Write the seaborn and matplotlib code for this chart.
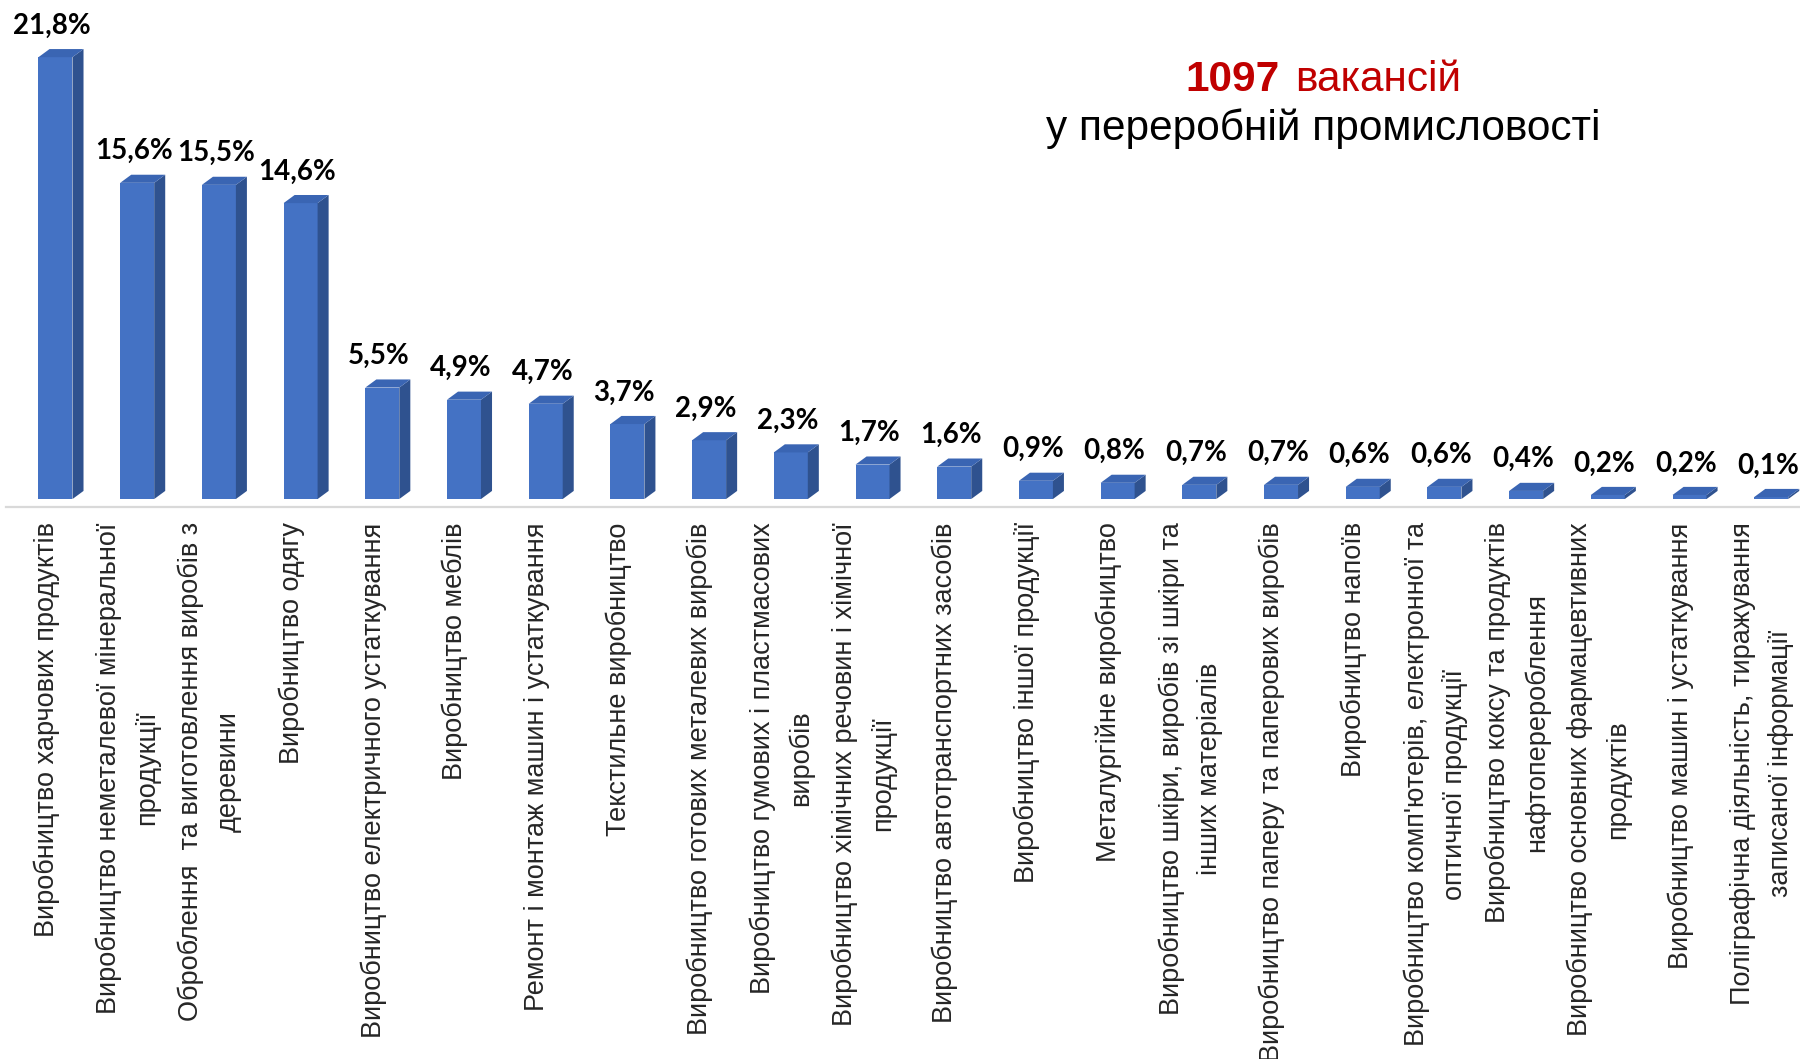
import matplotlib
matplotlib.use("Agg")
import matplotlib.pyplot as plt
import seaborn as sns
import pandas as pd
from matplotlib.patches import Polygon

# === дані ===
categories = [
    "Виробництво харчових продуктів",
    "Виробництво неметалевої мінеральної\nпродукції",
    "Оброблення  та виготовлення виробів з\nдеревини",
    "Виробництво одягу",
    "Виробництво електричного устаткування",
    "Виробництво меблів",
    "Ремонт і монтаж машин і устаткування",
    "Текстильне виробництво",
    "Виробництво готових металевих виробів",
    "Виробництво гумових і пластмасових\nвиробів",
    "Виробництво хімічних речовин і хімічної\nпродукції",
    "Виробництво автотранспортних засобів",
    "Виробництво іншої продукції",
    "Металургійне виробництво",
    "Виробництво шкіри, виробів зі шкіри та\nінших матеріалів",
    "Виробництво паперу та паперових виробів",
    "Виробництво напоїв",
    "Виробництво комп'ютерів, електронної та\nоптичної продукції",
    "Виробництво коксу та продуктів\nнафтоперероблення",
    "Виробництво основних фармацевтивних\nпродуктів",
    "Виробництво машин і устаткування",
    "Поліграфічна діяльність, тиражування\nзаписаної інформації",
]
shares = [21.8, 15.6, 15.5, 14.6, 5.5, 4.9, 4.7, 3.7, 2.9, 2.3, 1.7,
          1.6, 0.9, 0.8, 0.7, 0.7, 0.6, 0.6, 0.4, 0.2, 0.2, 0.1]
total_vacancies = 1097

df = pd.DataFrame({"category": categories, "share": shares})

# === стиль ===
front_color = "#4472C4"
side_color = "#2F528F"
top_color = "#3A65B3"
depth_x = 0.135   # глибина "3D" по x (в одиницях категорій)
depth_y = 0.40    # глибина "3D" по y (у %)
shift = 0.11      # зсув передньої грані праворуч від центру категорії

sns.set_style("white")
plt.rcParams['font.family'] = ['Liberation Sans', 'DejaVu Sans']

fig = plt.figure(figsize=(18, 10.59), dpi=100)
ax = fig.add_axes([0.00314, 0.5212, 0.99686, 0.4788])

sns.barplot(data=df, x="category", y="share", color=front_color,
            saturation=1, width=0.416, linewidth=0, ax=ax)

for p, v in zip(ax.patches, shares):
    p.set_x(p.get_x() + shift)
    x0 = p.get_x()
    x1 = x0 + p.get_width()
    h = p.get_height()
    side = Polygon([(x1, 0), (x1 + depth_x, depth_y), (x1 + depth_x, h + depth_y), (x1, h)],
                   closed=True, facecolor=side_color, edgecolor="none")
    top = Polygon([(x0, h), (x1, h), (x1 + depth_x, h + depth_y), (x0 + depth_x, h + depth_y)],
                  closed=True, facecolor=top_color, edgecolor="none")
    ax.add_patch(side)
    ax.add_patch(top)
    label = f"{v:.1f}%".replace(".", ",")
    ax.annotate(label, ((x0 + x1) / 2 - 0.04, h), xytext=(0, 17),
                textcoords="offset points", ha="center", va="baseline",
                fontsize=20, fontweight="bold", family=["Lato", "DejaVu Sans"],
                color="black")

ax.set_xlim(-0.5, 21.462)
ax.set_ylim(-0.395, 24.62)
ax.set_xlabel("")
ax.set_ylabel("")
ax.set_yticks([])
for s in ["top", "right", "left"]:
    ax.spines[s].set_visible(False)
ax.spines["bottom"].set_color("#D9D9D9")
ax.spines["bottom"].set_linewidth(1.6)
ax.set_xticks(range(len(categories)))
ax.set_xticklabels(categories, rotation=90, ha="center", va="top",
                   multialignment="center", linespacing=1.6, fontsize=19.5)
ax.tick_params(axis="x", length=0, pad=11)

# === заголовок ===
fig.text(0.7111, 1 - 91 / 1059, str(total_vacancies), ha="right", va="baseline",
         fontsize=30.5, fontweight="bold", color="#C00000")
fig.text(0.7194, 1 - 91 / 1059, "вакансій", ha="left", va="baseline",
         fontsize=30.5, color="#C00000")
fig.text(0.735, 1 - 140 / 1059, "у переробній промисловості", ha="center", va="baseline",
         fontsize=30.5, color="black")

fig.savefig("out.png", dpi=100)
